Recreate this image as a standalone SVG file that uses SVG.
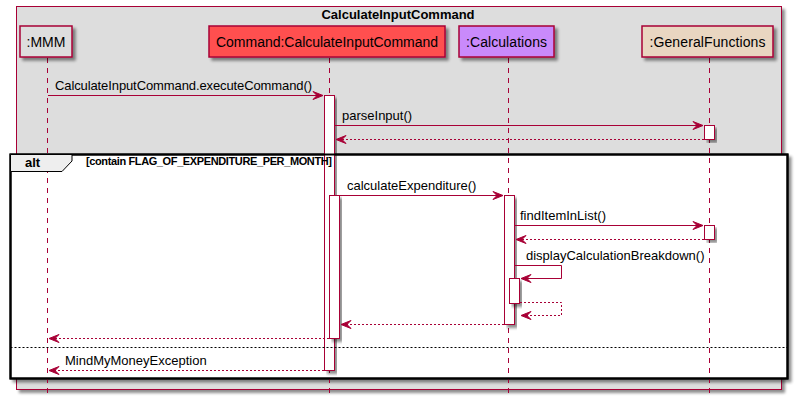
<svg xmlns="http://www.w3.org/2000/svg" width="800" height="401" viewBox="0 0 800 401">
<defs>
<filter id="sh" x="-10%" y="-10%" width="130%" height="130%">
<feGaussianBlur in="SourceAlpha" stdDeviation="1.5"/>
<feOffset dx="3" dy="3" result="b"/>
<feComponentTransfer><feFuncA type="linear" slope="0.45"/></feComponentTransfer>
<feMerge><feMergeNode/><feMergeNode in="SourceGraphic"/></feMerge>
</filter>
<marker id="ah" markerWidth="12" markerHeight="10" refX="11" refY="5" orient="auto" markerUnits="userSpaceOnUse">
<path d="M1,1 L11,5 L1,9 L5,5 Z" fill="#A80036" stroke="#A80036" stroke-width="1"/>
</marker>
</defs>
<style>
text{font-family:"Liberation Sans",Arial,sans-serif;fill:#000}
.msg{font-size:13px}
.pname{font-size:14px}
.life{stroke:#A80036;stroke-width:1;stroke-dasharray:5,5;fill:none}
.act{fill:#FFFFFF;stroke:#A80036;stroke-width:1}
.sync{stroke:#A80036;stroke-width:1;fill:none;marker-end:url(#ah)}
.ret{stroke:#A80036;stroke-width:1;stroke-dasharray:2,2;fill:none;marker-end:url(#ah)}
.pbox{stroke:#A80036;stroke-width:1.5}
</style>
<rect width="800" height="401" fill="#FFFFFF"/>
<g id="box">
<rect x="16.5" y="6.5" width="765" height="383" fill="#DDDDDD" stroke="#A80036" stroke-width="1" filter="url(#sh)"/>
<text x="398" y="19" text-anchor="middle" font-size="13" font-weight="bold">CalculateInputCommand</text>
</g>
<g id="alt_bg">
<rect x="10.5" y="154.5" width="777" height="224" fill="#FFFFFF" stroke="#000000" stroke-width="2" filter="url(#sh)"/>
</g>
<g id="lifelines">
<line class="life" x1="47.5" y1="58" x2="47.5" y2="396"/>
<line class="life" x1="329.5" y1="58" x2="329.5" y2="396"/>
<line class="life" x1="508.5" y1="58" x2="508.5" y2="396"/>
<line class="life" x1="709.5" y1="58" x2="709.5" y2="396"/>
</g>
<g id="p_mmm">
<rect class="pbox" x="20" y="26" width="52" height="31" fill="#DDDDDD" filter="url(#sh)"/>
<text class="pname" x="46" y="47" text-anchor="middle">:MMM</text>
</g>
<g id="p_cmd">
<rect class="pbox" x="209" y="26" width="236" height="31" fill="#FF5050" filter="url(#sh)"/>
<text class="pname" x="327" y="47" text-anchor="middle" textLength="222">Command:CalculateInputCommand</text>
</g>
<g id="p_calc">
<rect class="pbox" x="459" y="26" width="95" height="31" fill="#C98AFB" filter="url(#sh)"/>
<text class="pname" x="506.5" y="47" text-anchor="middle" textLength="81">:Calculations</text>
</g>
<g id="p_gen">
<rect class="pbox" x="642" y="26" width="131" height="31" fill="#E9D6C1" filter="url(#sh)"/>
<text class="pname" x="707.5" y="47" text-anchor="middle" textLength="116">:GeneralFunctions</text>
</g>
<g id="activations">
<rect class="act" x="324.5" y="95.5" width="10" height="275" filter="url(#sh)"/>
<rect class="act" x="329.5" y="195.5" width="10" height="143" filter="url(#sh)"/>
<rect class="act" x="704.5" y="125.5" width="10" height="14" filter="url(#sh)"/>
<rect class="act" x="504.5" y="195.5" width="10" height="129" filter="url(#sh)"/>
<rect class="act" x="704.5" y="225.5" width="10" height="14" filter="url(#sh)"/>
<rect class="act" x="509.5" y="278.5" width="10" height="25" filter="url(#sh)"/>
</g>
<g id="alt">
<rect x="10.5" y="154.5" width="777" height="224" fill="none" stroke="#000000" stroke-width="2"/>
<path d="M10.5,154.5 L72,154.5 L72,161 L62,171.5 L10.5,171.5 Z" fill="#EEEEEE" stroke="#000000" stroke-width="1"/>
<text x="25" y="167" font-size="13" font-weight="bold">alt</text>
<text x="86" y="165" font-size="11" font-weight="bold" textLength="246">[contain FLAG_OF_EXPENDITURE_PER_MONTH]</text>
<line x1="10.5" y1="347.5" x2="787.5" y2="347.5" stroke="#000000" stroke-width="1" stroke-dasharray="2,2"/>
</g>
<g id="connectors">
<line class="sync" x1="48" y1="95.5" x2="323" y2="95.5"/>
<text class="msg" x="55" y="90" textLength="257">CalculateInputCommand.executeCommand()</text>
<line class="sync" x1="335" y1="125.5" x2="703" y2="125.5"/>
<text class="msg" x="342" y="120">parseInput()</text>
<line class="ret" x1="704" y1="139.5" x2="336" y2="139.5"/>
<line class="sync" x1="340" y1="195.5" x2="503" y2="195.5"/>
<text class="msg" x="347" y="190">calculateExpenditure()</text>
<line class="sync" x1="515" y1="225.5" x2="703" y2="225.5"/>
<text class="msg" x="520" y="220">findItemInList()</text>
<line class="ret" x1="704" y1="239.5" x2="516" y2="239.5"/>
<polyline class="sync" points="515,265.5 561.5,265.5 561.5,278.5 521,278.5"/>
<text class="msg" x="526" y="260">displayCalculationBreakdown()</text>
<polyline class="ret" points="520,302.5 561.5,302.5 561.5,315.5 521,315.5"/>
<line class="ret" x1="504" y1="324.5" x2="341" y2="324.5"/>
<line class="ret" x1="329" y1="338.5" x2="49" y2="338.5"/>
<line class="ret" x1="324" y1="370.5" x2="49" y2="370.5"/>
<text class="msg" x="65" y="365">MindMyMoneyException</text>
</g>
</svg>
